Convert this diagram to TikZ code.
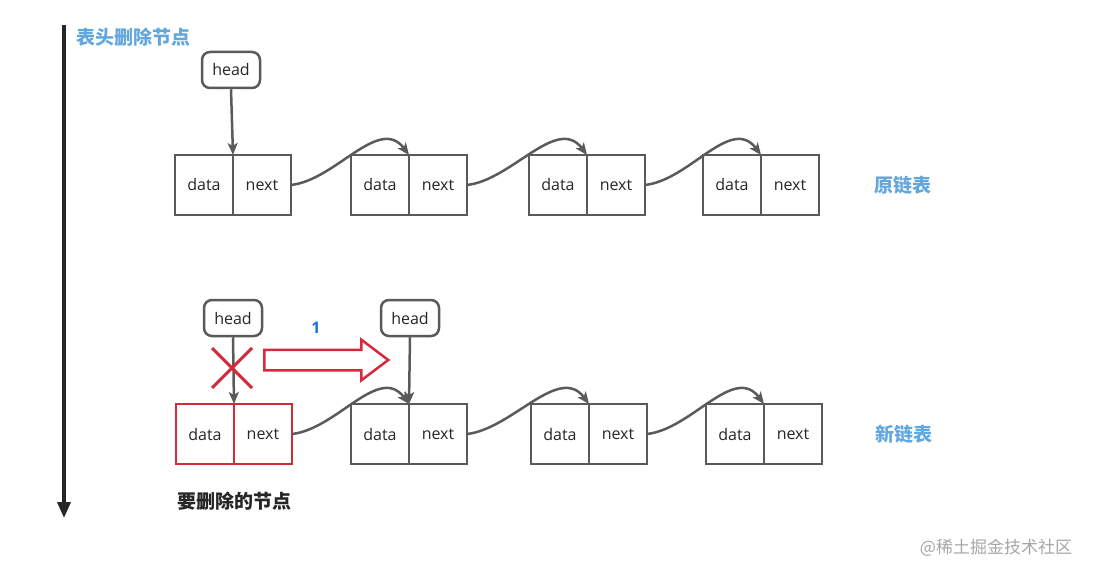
\documentclass[tikz,border=0pt]{standalone}
\usepackage{fontspec}
\setmainfont{Open Sans}
\newfontfamily\cjk{Noto Sans CJK SC}
\usetikzlibrary{arrows.meta, shapes, calc, positioning}
\definecolor{boxgray}{HTML}{5A5A5A}
\definecolor{titleblue}{HTML}{62A8DE}
\definecolor{delred}{HTML}{D42A3A}
\definecolor{stepblue}{HTML}{1E6FD9}

\begin{document}
\begin{tikzpicture}[x=1pt, y=-1pt, >={Stealth[length=12pt, width=10pt, inset=3pt]},
    cell/.style={draw=boxgray, line width=2.5pt, minimum width=58pt, minimum height=60pt,
        inner sep=0pt, outer sep=0pt, text=black!85, font=\fontsize{16}{16}\selectfont},
    delcell/.style={cell, draw=delred},
    ptr/.style={draw=boxgray, line width=2.5pt, rounded corners=8pt, minimum width=58pt,
        minimum height=36pt, inner sep=0pt, text=black!85, font=\fontsize{16}{16}\selectfont},
    link/.style={->, draw=boxgray, line width=2.5pt},
    tag/.style={text=titleblue, font=\cjk\bfseries\fontsize{19}{19}\selectfont}]
\useasboundingbox (0,0) rectangle (1094,577);

% time line
\coordinate (tstart) at (64,25);
\coordinate (tend) at (64,518);
\draw[line width=3.5pt, draw=black!85, -{Triangle[length=16pt, width=13pt]}] (tstart) -- (tend);
\node[tag, anchor=west] (title) at (73,37) {表头删除节点};

% original list
\draw
    node [cell] at (204,185) (d1) {data}
    node [cell, right=0pt of d1] (n1) {next}
    node [cell, right=60pt of n1] (d2) {data}
    node [cell, right=0pt of d2] (n2) {next}
    node [cell, right=62pt of n2] (d3) {data}
    node [cell, right=0pt of d3] (n3) {next}
    node [cell, right=58pt of n3] (d4) {data}
    node [cell, right=0pt of d4] (n4) {next}
    node [ptr] at (231,70) (head) {head}
    node [tag, right=52pt of n4] (old) {原链表}
;
\draw[link] (head.south) -- (d1.north east);
\draw[link] (n1.east) .. controls +(45,-5) and +(-30,-40) .. (d2.north east);
\draw[link] (n2.east) .. controls +(45,-5) and +(-30,-40) .. (d3.north east);
\draw[link] (n3.east) .. controls +(45,-5) and +(-30,-40) .. (d4.north east);

% new list
\draw
    node [delcell] at (205,434) (dd) {data}
    node [delcell, right=0pt of dd] (dn) {next}
    node [cell, right=59pt of dn] (e1) {data}
    node [cell, right=0pt of e1] (f1) {next}
    node [cell, right=64pt of f1] (e2) {data}
    node [cell, right=0pt of e2] (f2) {next}
    node [cell, right=59pt of f2] (e3) {data}
    node [cell, right=0pt of e3] (f3) {next}
    node [ptr] at (233,318) (oldhead) {head}
    node [ptr] at (410,318) (newhead) {head}
    node [tag, right=50pt of f3] (new) {新链表}
    node [below=24pt of dd.south east, font=\cjk\bfseries\fontsize{19}{19}\selectfont, text=black!85] (gone) {要删除的节点}
;
\draw[link] (oldhead.south) -- (dd.north east);
\draw[link] (newhead.south) -- (e1.north east);
\draw[link] (dn.east) .. controls +(45,-5) and +(-30,-40) .. (e1.north east);
\draw[link] (f1.east) .. controls +(45,-5) and +(-30,-40) .. (e2.north east);
\draw[link] (f2.east) .. controls +(45,-5) and +(-30,-40) .. (e3.north east);

% cut old head
\draw[delred, line width=3pt] (212,348) -- (252,388) (252,348) -- (212,388);
\node[single arrow, draw=delred, line width=2.5pt, fill=white, minimum height=124pt,
    inner xsep=0pt, inner ysep=9pt, single arrow head extend=10pt, single arrow tip angle=74,
    anchor=west] (move) at (263,360) {};
\node[text=stepblue, font=\bfseries\fontsize{16}{16}\selectfont] (step1) at (316,328) {1};

\node[text=black!35, font=\cjk\fontsize{17}{17}\selectfont] (mark) at (996,548) {@稀土掘金技术社区};
\end{tikzpicture}
\end{document}
